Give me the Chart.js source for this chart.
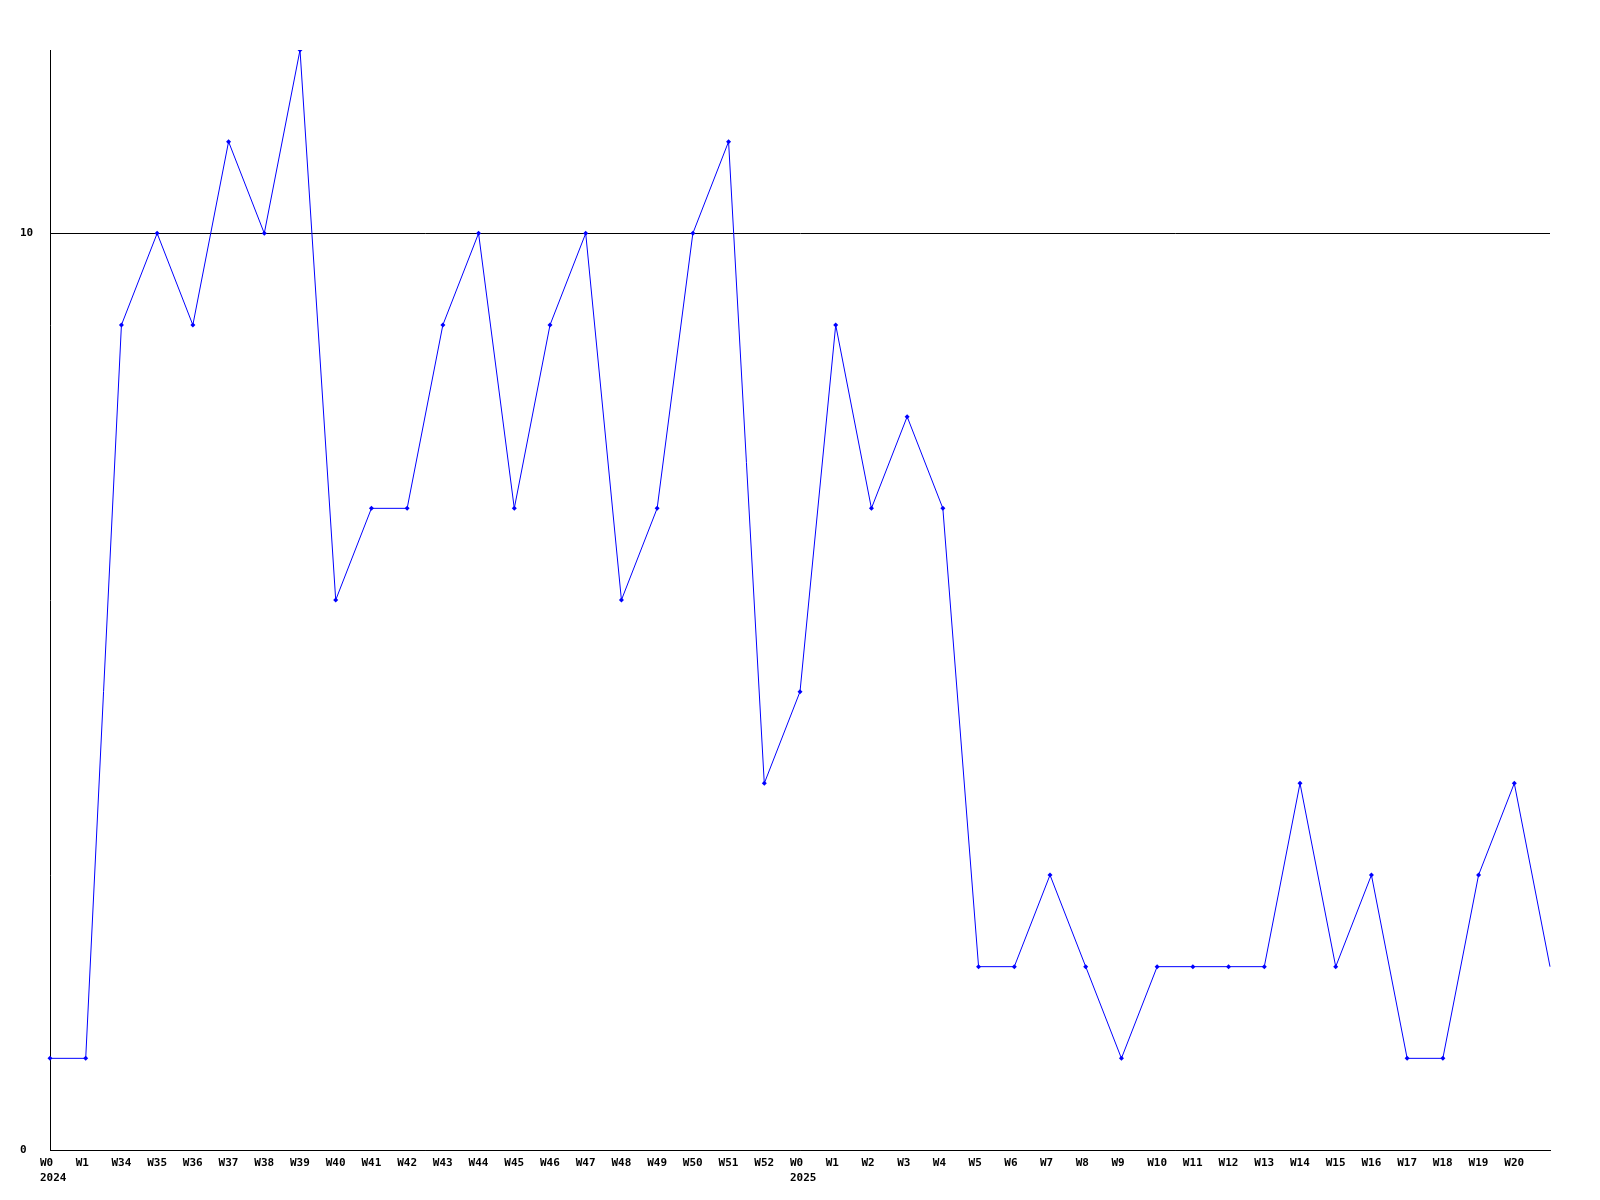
<!DOCTYPE html>
<html>
<head>
<meta charset="utf-8">
<script src="https://cdn.jsdelivr.net/npm/chart.js@4/dist/chart.umd.min.js"></script>
<style>
  html, body { margin: 0; padding: 0; background: #fff; }
  #wrap { width: 1600px; height: 1200px; }
</style>
</head>
<body>
<div id="wrap"><canvas id="chart" width="1600" height="1200"></canvas></div>
<script>
// weekly counts, 2024 -> 2025
const weeks = ["W0", "W1", "W34", "W35", "W36", "W37", "W38", "W39", "W40", "W41", "W42",
  "W43", "W44", "W45", "W46", "W47", "W48", "W49", "W50", "W51", "W52",
  "W0", "W1", "W2", "W3", "W4", "W5", "W6", "W7", "W8", "W9", "W10", "W11", "W12",
  "W13", "W14", "W15", "W16", "W17", "W18", "W19", "W20", ""];
const years = ["2024", "", "", "", "", "", "", "", "", "", "", "", "", "", "", "", "", "", "", "", "",
  "2025", "", "", "", "", "", "", "", "", "", "", "", "", "", "", "", "", "", "", "", "", ""];
const counts = [1, 1, 9, 10, 9, 11, 10, 12, 6, 7, 7, 9, 10, 7, 9, 10, 6, 7, 10, 11, 4,
  5, 9, 7, 8, 7, 2, 2, 3, 2, 1, 2, 2, 2, 2, 4, 2, 3, 1, 1, 3, 4, 2];
const yTicks = [0, 10];

const labels = weeks.map((w, i) => (years[i] ? [w, years[i]] : w));

const font = { family: "'DejaVu Sans Mono', monospace", size: 11, weight: "bold", lineHeight: 1.4 };

new Chart(document.getElementById("chart"), {
  type: "line",
  data: {
    labels: labels,
    datasets: [
      {
        data: counts,
        borderColor: "#0000ff",
        backgroundColor: "#0000ff",
        borderWidth: 1,
        pointStyle: "rectRot",
        pointRadius: (ctx) => (ctx.dataIndex === counts.length - 1 ? 0 : 2.5),
        pointBorderWidth: 0,
        tension: 0,
      },
    ],
  },
  options: {
    responsive: false,
    animation: false,
    layout: { padding: { left: 20, right: 50, top: 50, bottom: 0 } },
    plugins: { legend: { display: false }, tooltip: { enabled: false } },
    scales: {
      x: {
        offset: false,
        grid: { display: false, drawTicks: false },
        border: { color: "#000", width: 1 },
        ticks: {
          color: "#000",
          font: font,
          autoSkip: false,
          maxRotation: 0,
          minRotation: 0,
          align: "start",
          labelOffset: -10,
          padding: 5,
        },
        afterFit: (scale) => { scale.height = 50; },
      },
      y: {
        min: 0,
        max: 12,
        afterBuildTicks: (axis) => { axis.ticks = yTicks.map((v) => ({ value: v })); },
        grid: { color: "#000", drawTicks: false, lineWidth: 1 },
        border: { color: "#000", width: 1 },
        ticks: { color: "#000", font: font, crossAlign: "far", padding: 17 },
        afterFit: (scale) => { scale.width = 30; },
      },
    },
  },
});
</script>
</body>
</html>
